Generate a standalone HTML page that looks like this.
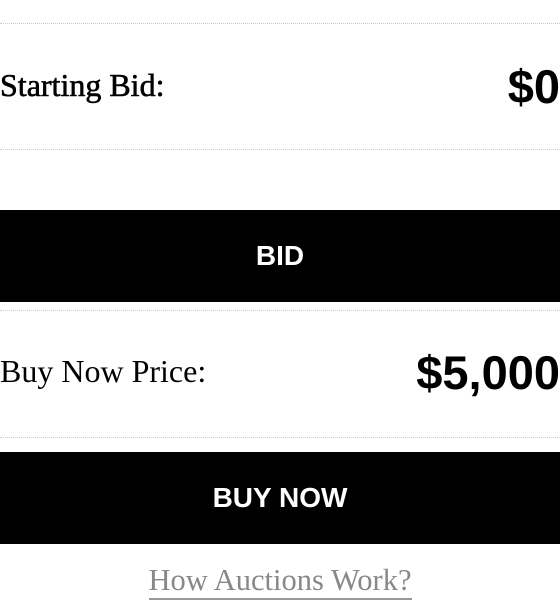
<!DOCTYPE html>
<html><head><meta charset="utf-8"><style>
html,body{margin:0;padding:0;width:560px;height:608px;background:#fff;overflow:hidden;position:relative}
.dot{position:absolute;left:0;width:560px;height:0;border-top:1px dotted #ccc}
.lbl{position:absolute;left:0;font-family:"Liberation Serif",serif;font-size:32px;color:#000;line-height:1}
.val{position:absolute;right:0;font-family:"Liberation Sans",sans-serif;font-weight:bold;font-size:47px;color:#000;line-height:1}
.btn{position:absolute;left:0;width:560px;height:92px;background:#000;color:#fff;font-family:"Liberation Sans",sans-serif;font-size:28px;font-weight:bold;display:flex;align-items:center;justify-content:center}
.link{position:absolute;left:0;width:560px;top:563px;text-align:center;font-family:"Liberation Serif",serif;font-size:30.5px;color:#888}
.link span{border-bottom:2px solid #999;padding-bottom:1px}
</style></head><body>
<div class="dot" style="top:23px"></div>
<div class="lbl" style="top:69px;-webkit-text-stroke:0.6px #000">Starting Bid:</div>
<div class="val" style="top:63px">$0</div>
<div class="dot" style="top:149px"></div>
<div class="btn" style="top:210px">BID</div>
<div class="dot" style="top:310px"></div>
<div class="lbl" style="top:355px">Buy Now Price:</div>
<div class="val" style="top:349px">$5,000</div>
<div class="dot" style="top:437px"></div>
<div class="btn" style="top:452px">BUY NOW</div>
<div class="link"><span>How Auctions Work?</span></div>
</body></html>
